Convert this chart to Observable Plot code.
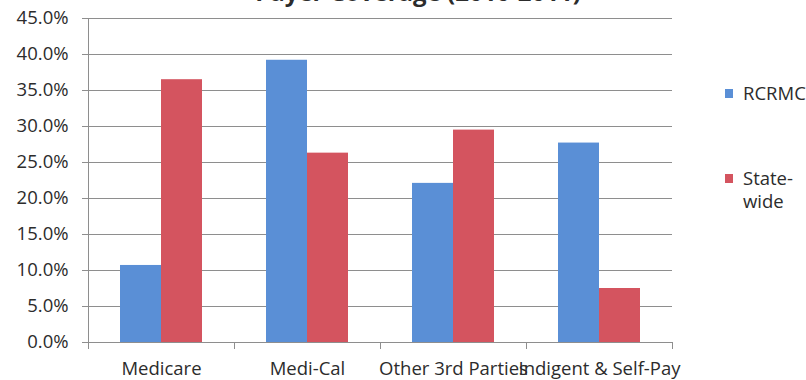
<!DOCTYPE html>
<html>
<head>
<meta charset="utf-8">
<script src="https://cdn.jsdelivr.net/npm/d3@7"></script>
<script src="https://cdn.jsdelivr.net/npm/@observablehq/plot@0.6"></script>
<style>
  html, body { margin: 0; padding: 0; background: #fff; }
  #wrap { position: relative; width: 806px; height: 380px; overflow: hidden; font-family: "Open Sans", sans-serif; color: #2c2c2c; }
  #title { position: absolute; left: 0; width: 836px; top: -20px; text-align: center; font-size: 24px; line-height: 24px; font-weight: 700; color: #2c2c2c; white-space: nowrap; }
  .key { position: absolute; left: 725px; font-size: 18.5px; line-height: 23px; }
  .key .sw { position: absolute; left: 0; width: 8px; height: 9px; }
  .key .lbl { position: absolute; left: 18px; white-space: nowrap; }
  svg { display: block; }
</style>
</head>
<body>
<div id="wrap">
  <div id="chart"></div>
  <div id="title">Payer Coverage (2010-2011)</div>
  <div id="legend"></div>
</div>
<script>
// Share of patients by payer type
const categories = ["Medicare", "Medi-Cal", "Other 3rd Parties", "Indigent & Self-Pay"];
const seriesNames = ["RCRMC", "State-wide"];
const rcrmcValues = [0.107, 0.392, 0.221, 0.277];
const statewideValues = [0.365, 0.263, 0.295, 0.075];
const yTicks = [0, 0.05, 0.10, 0.15, 0.20, 0.25, 0.30, 0.35, 0.40, 0.45];
const seriesColors = ["#5a8fd6", "#d4545f"];
const legendLines = [["RCRMC"], ["State-", "wide"]];

const rows = categories.flatMap((cat, i) => [
  {cat, series: seriesNames[0], value: rcrmcValues[i]},
  {cat, series: seriesNames[1], value: statewideValues[i]}
]);

const gridColor = "#8e8e8e";

const chart = Plot.plot({
  width: 806,
  height: 380,
  marginLeft: 86,
  marginRight: 133,
  marginTop: 18,
  marginBottom: 38,
  style: {fontFamily: "Open Sans, sans-serif", fontSize: "18.5px", color: "#2c2c2c", background: "#fff"},
  fx: {domain: categories, padding: 0, label: null},
  x: {domain: seriesNames, paddingInner: 0, paddingOuter: 0.768, axis: null},
  y: {domain: [0, 0.45], label: null},
  color: {domain: seriesNames, range: seriesColors},
  marks: [
    Plot.gridY(yTicks, {stroke: gridColor, strokeOpacity: 1}),
    Plot.axisY(yTicks, {tickFormat: d3.format(".1%"), tickSize: 6, tickPadding: 14, stroke: gridColor, label: null}),
    Plot.frame({anchor: "left", facetAnchor: "left", stroke: gridColor}),
    Plot.frame({anchor: "left", insetTop: 324, insetBottom: -6, stroke: gridColor}),
    Plot.frame({anchor: "right", insetTop: 324, insetBottom: -6, stroke: gridColor}),
    Plot.barY(rows, {fx: "cat", x: "series", y: "value", fill: "series", inset: 0}),
    Plot.ruleY([0], {stroke: gridColor}),
    Plot.axisFx({anchor: "bottom", tickSize: 0, tickPadding: 19, label: null})
  ]
});
document.getElementById("chart").appendChild(chart);

// Legend beside the plot
const legendTops = [81, 166];
const legend = document.getElementById("legend");
legendLines.forEach((lines, i) => {
  const item = document.createElement("div");
  item.className = "key";
  item.style.top = legendTops[i] + "px";
  const sw = document.createElement("div");
  sw.className = "sw";
  sw.style.top = "8px";
  sw.style.background = seriesColors[i];
  item.appendChild(sw);
  lines.forEach((t, j) => {
    const lbl = document.createElement("div");
    lbl.className = "lbl";
    lbl.style.top = (j * 23) + "px";
    lbl.textContent = t;
    item.appendChild(lbl);
  });
  legend.appendChild(item);
});
</script>
</body>
</html>
